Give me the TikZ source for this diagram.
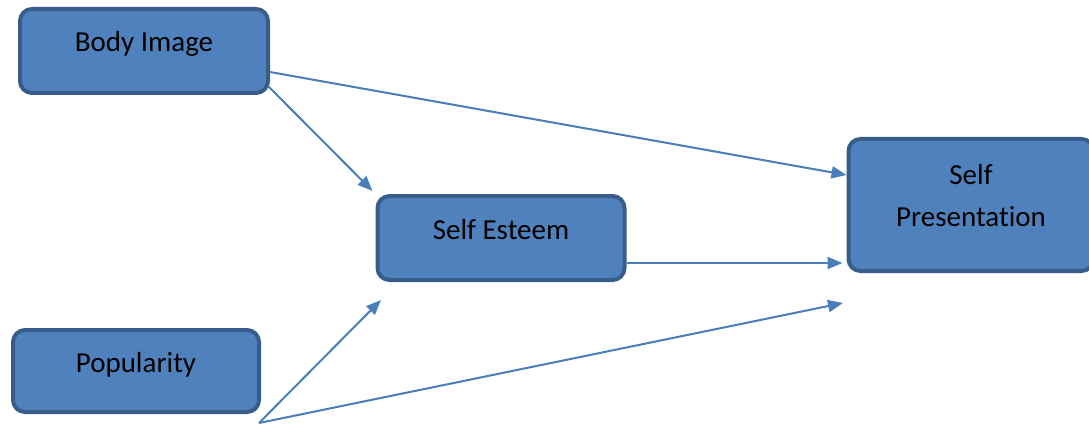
\documentclass[tikz,border=0pt]{standalone}
\usepackage{fontspec}
\setmainfont{Carlito}[Ligatures=NoCommon]
\usetikzlibrary{arrows.meta}

\definecolor{boxfill}{HTML}{4F81BD}
\definecolor{boxline}{HTML}{385D8A}
\definecolor{arrowblue}{HTML}{4A7EBB}

\begin{document}
\begin{tikzpicture}[
        x=1pt, y=-1pt,
        % rounded blue boxes, text sits a little above the middle
        box/.style={
            draw=boxline,
            fill=boxfill,
            line width=4pt,
            rounded corners=12pt,
            align=center,
            inner sep=0pt,
            font=\fontsize{29}{42}\selectfont,
            text height=20pt,
            text depth=18pt
        },
        % thin blue arrows with a filled triangle tip
        link/.style={
            draw=arrowblue,
            line width=2pt,
            -{Triangle[length=15pt, width=12pt]}
        },
    ]
    \useasboundingbox (0,0) rectangle (1089,425);

    \node[box, minimum width=248pt, minimum height=84pt] (body) at (144,51) {Body Image};
    \node[box, minimum width=247pt, minimum height=84pt] (esteem) at (501,238) {Self Esteem};
    \node[box, minimum width=246pt, minimum height=82pt] (pop) at (136,371) {Popularity};
    \node[box, minimum width=245pt, minimum height=132pt, text height=62pt, text depth=20pt] (pres) at (971,205) {Self\\ Presentation};

    % free ends of the popularity arrows
    \coordinate (popfoot) at (259,423);
    \coordinate (esteemin) at (381,300);
    \coordinate (presin) at (843,303);

    \draw[link] ([yshift=-21pt]body.east) -- ([yshift=30pt]pres.west);
    \draw[link] ([shift={(-2pt,9pt)}]body.south east) -- ([shift={(-3pt,3pt)}]esteem.north west);
    \draw[link] ([yshift=-25pt]esteem.east) -- ([shift={(-4pt,-58pt)}]pres.west);

    % arrows out of popularity
    \draw[link] (popfoot) -- (esteemin);
    \draw[link] (popfoot) -- (presin);

\end{tikzpicture}
\end{document}
